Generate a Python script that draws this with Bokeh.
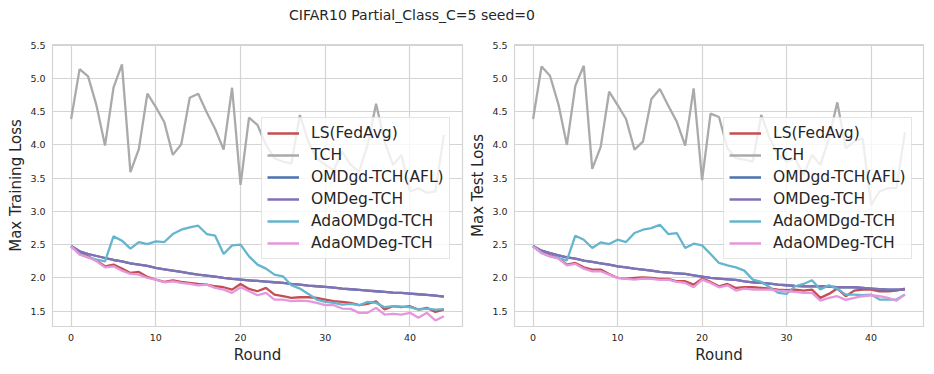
from bokeh.plotting import figure
from bokeh.models import Div, Legend, LegendItem, FixedTicker, Range1d, NumeralTickFormatter
from bokeh.layouts import column, row
from bokeh.embed import file_html
from bokeh.resources import INLINE

TITLE = "CIFAR10 Partial_Class_C=5 seed=0"
ROUNDS = list(range(45))
SERIES = ["LS(FedAvg)", "TCH", "OMDgd-TCH(AFL)", "OMDeg-TCH", "AdaOMDgd-TCH", "AdaOMDeg-TCH"]
COLORS = ["#c44e52", "#aaaaaa", "#4c72b0", "#8172b3", "#64b5cd", "#e497dd"]
Y_TICKS = [1.5, 2.0, 2.5, 3.0, 3.5, 4.0, 4.5, 5.0, 5.5]
X_TICKS = [0, 10, 20, 30, 40]

# ---- Max Training Loss ----
train_ls = [2.475, 2.375, 2.325, 2.26, 2.175, 2.20, 2.14, 2.075, 2.09, 2.015,
            1.975, 1.94, 1.965, 1.94, 1.925, 1.91, 1.90, 1.875, 1.86, 1.825,
            1.91, 1.835, 1.80, 1.85, 1.75, 1.725, 1.70, 1.71, 1.71, 1.70,
            1.675, 1.65, 1.64, 1.625, 1.59, 1.61, 1.65, 1.525, 1.575, 1.56,
            1.575, 1.525, 1.55, 1.49, 1.525]
train_tch = [4.39, 5.14, 5.03, 4.59, 3.99, 4.86, 5.21, 3.59, 3.94, 4.77,
             4.57, 4.34, 3.85, 4.01, 4.71, 4.77, 4.49, 4.24, 3.93, 4.86,
             3.40, 4.41, 4.30, 4.00, 3.80, 3.75, 3.72, 4.45, 4.05, 3.80,
             3.70, 3.62, 3.90, 3.70, 3.60, 4.00, 4.62, 4.05, 3.70, 3.85,
             3.30, 3.35, 3.28, 3.30, 4.15]
train_omdgd = [2.48, 2.40, 2.36, 2.33, 2.30, 2.27, 2.25, 2.22, 2.20, 2.18,
               2.15, 2.13, 2.11, 2.09, 2.07, 2.05, 2.035, 2.02, 2.00, 1.985,
               1.975, 1.965, 1.955, 1.945, 1.935, 1.925, 1.91, 1.90, 1.885, 1.875,
               1.865, 1.855, 1.84, 1.83, 1.82, 1.81, 1.80, 1.79, 1.78, 1.775,
               1.765, 1.755, 1.745, 1.735, 1.72]
train_omdeg = [2.48, 2.40, 2.36, 2.33, 2.30, 2.27, 2.25, 2.22, 2.20, 2.18,
               2.15, 2.13, 2.11, 2.09, 2.07, 2.05, 2.035, 2.02, 2.00, 1.985,
               1.975, 1.965, 1.955, 1.945, 1.935, 1.925, 1.91, 1.90, 1.885, 1.875,
               1.865, 1.855, 1.84, 1.83, 1.82, 1.81, 1.80, 1.79, 1.78, 1.775,
               1.765, 1.755, 1.745, 1.735, 1.72]
train_adagd = [2.475, 2.36, 2.31, 2.275, 2.25, 2.625, 2.56, 2.44, 2.54, 2.51,
               2.55, 2.54, 2.66, 2.725, 2.76, 2.785, 2.66, 2.635, 2.36, 2.49,
               2.50, 2.325, 2.20, 2.14, 2.05, 2.025, 1.89, 1.84, 1.76, 1.675,
               1.64, 1.625, 1.60, 1.61, 1.59, 1.64, 1.625, 1.56, 1.575, 1.57,
               1.56, 1.525, 1.54, 1.525, 1.53]
train_adaeg = [2.475, 2.35, 2.31, 2.25, 2.16, 2.175, 2.11, 2.06, 2.05, 2.00,
               1.975, 1.935, 1.95, 1.925, 1.91, 1.89, 1.90, 1.85, 1.825, 1.775,
               1.86, 1.80, 1.74, 1.775, 1.675, 1.675, 1.65, 1.66, 1.65, 1.625,
               1.59, 1.59, 1.54, 1.535, 1.475, 1.475, 1.55, 1.45, 1.46, 1.45,
               1.475, 1.40, 1.475, 1.36, 1.425]

# ---- Max Test Loss ----
test_ls = [2.475, 2.39, 2.34, 2.30, 2.20, 2.225, 2.16, 2.125, 2.125, 2.06,
           2.00, 1.99, 2.00, 2.01, 2.00, 1.985, 1.985, 1.95, 1.95, 1.90,
           1.99, 1.94, 1.875, 1.91, 1.85, 1.86, 1.86, 1.85, 1.84, 1.825,
           1.815, 1.825, 1.81, 1.825, 1.70, 1.76, 1.84, 1.725, 1.81, 1.825,
           1.825, 1.80, 1.80, 1.81, 1.84]
test_tch = [4.39, 5.18, 5.04, 4.61, 4.00, 4.89, 5.19, 3.64, 3.97, 4.80,
            4.60, 4.39, 3.93, 4.05, 4.69, 4.84, 4.59, 4.35, 3.99, 4.85,
            3.47, 4.47, 4.42, 3.95, 3.80, 3.78, 3.75, 4.45, 4.10, 3.85,
            3.75, 3.80, 3.55, 3.85, 3.70, 4.10, 4.64, 3.95, 4.05, 4.10,
            3.10, 3.30, 3.35, 3.35, 4.19]
test_omdgd = [2.48, 2.41, 2.375, 2.34, 2.31, 2.29, 2.26, 2.24, 2.22, 2.20,
              2.175, 2.16, 2.14, 2.125, 2.11, 2.09, 2.08, 2.07, 2.06, 2.04,
              2.02, 2.00, 1.99, 1.98, 1.97, 1.95, 1.935, 1.925, 1.915, 1.90,
              1.89, 1.88, 1.875, 1.875, 1.875, 1.87, 1.86, 1.86, 1.86, 1.85,
              1.84, 1.83, 1.825, 1.825, 1.825]
test_omdeg = [2.48, 2.41, 2.375, 2.34, 2.31, 2.29, 2.26, 2.24, 2.22, 2.20,
              2.175, 2.16, 2.14, 2.125, 2.11, 2.09, 2.08, 2.07, 2.06, 2.04,
              2.02, 2.00, 1.99, 1.98, 1.97, 1.95, 1.935, 1.925, 1.915, 1.90,
              1.89, 1.88, 1.875, 1.875, 1.875, 1.87, 1.86, 1.86, 1.86, 1.85,
              1.84, 1.83, 1.825, 1.825, 1.825]
test_adagd = [2.475, 2.375, 2.325, 2.30, 2.265, 2.635, 2.575, 2.45, 2.535, 2.51,
              2.575, 2.54, 2.675, 2.725, 2.75, 2.80, 2.66, 2.675, 2.45, 2.515,
              2.49, 2.36, 2.225, 2.19, 2.16, 2.11, 1.975, 1.94, 1.86, 1.775,
              1.76, 1.875, 1.91, 1.965, 1.825, 1.89, 1.84, 1.75, 1.75, 1.74,
              1.75, 1.675, 1.675, 1.675, 1.75]
test_adaeg = [2.475, 2.375, 2.325, 2.29, 2.19, 2.21, 2.14, 2.10, 2.10, 2.05,
              2.00, 1.985, 1.975, 1.99, 1.985, 1.97, 1.975, 1.94, 1.925, 1.86,
              1.975, 1.925, 1.86, 1.89, 1.81, 1.84, 1.825, 1.825, 1.825, 1.81,
              1.80, 1.79, 1.775, 1.775, 1.66, 1.70, 1.725, 1.67, 1.70, 1.725,
              1.74, 1.725, 1.70, 1.66, 1.75]

TEXT = "#262626"
GRID = "#d4d4d4"
FONT = "DejaVu Sans"


def make_plot(ylabel, data, frame_w, left_border, right_border):
    p = figure(frame_width=frame_w, frame_height=282, output_backend="svg",
               toolbar_location=None,
               x_range=Range1d(-2.2, 46.2), y_range=Range1d(1.27, 5.51),
               min_border_left=left_border, min_border_right=right_border,
               min_border_top=12, min_border_bottom=40)
    p.background_fill_color = "white"
    p.outline_line_color = GRID
    p.outline_line_width = 1.2
    for ax in (p.xaxis[0], p.yaxis[0]):
        ax.axis_line_color = None
        ax.major_tick_line_color = None
        ax.minor_tick_line_color = None
        ax.major_tick_out = 0
        ax.major_tick_in = 0
        ax.minor_tick_out = 0
        ax.minor_tick_in = 0
        ax.major_label_text_font = FONT
        ax.major_label_text_font_size = "9.5px"
        ax.major_label_text_color = TEXT
        ax.axis_label_text_font = FONT
        ax.axis_label_text_font_size = "15px"
        ax.axis_label_text_font_style = "normal"
        ax.axis_label_text_color = TEXT
        ax.major_label_standoff = 7
        ax.axis_label_standoff = 2
    p.xaxis[0].ticker = FixedTicker(ticks=X_TICKS)
    p.yaxis[0].ticker = FixedTicker(ticks=Y_TICKS)
    p.yaxis[0].formatter = NumeralTickFormatter(format="0.0")
    p.xaxis[0].axis_label = "Round"
    p.yaxis[0].axis_label = ylabel
    p.xgrid.grid_line_color = GRID
    p.ygrid.grid_line_color = GRID
    p.xgrid.grid_line_width = 1.2
    p.ygrid.grid_line_width = 1.2

    items = []
    for name, vals, col in zip(SERIES, data, COLORS):
        r = p.line(ROUNDS, vals, line_color=col, line_width=2.3)
        items.append(LegendItem(label=name, renderers=[r]))

    leg = Legend(items=items, location=(209, 67))
    leg.label_text_font = FONT
    leg.label_text_font_size = "15.5px"
    leg.label_text_color = TEXT
    leg.glyph_width = 32
    leg.glyph_height = 20
    leg.label_height = 20
    leg.label_standoff = 12
    leg.spacing = 2
    leg.padding = 5
    leg.margin = 0
    leg.border_line_color = "#cccccc"
    leg.border_line_width = 1
    leg.background_fill_color = "white"
    leg.background_fill_alpha = 0.8
    p.add_layout(leg, "center")
    return p


p1 = make_plot("Max Training Loss",
               [train_ls, train_tch, train_omdgd, train_omdeg, train_adagd, train_adaeg],
               410, 52, 2)
p2 = make_plot("Max Test Loss",
               [test_ls, test_tch, test_omdgd, test_omdeg, test_adagd, test_adaeg],
               409, 50, 3)

title = Div(text=TITLE, width=824, height=24, margin=(8, 0, 0, 0),
            styles={"text-align": "center", "font-family": FONT, "font-size": "14px",
                    "color": TEXT, "line-height": "14px", "width": "824px"})

layout = column(title, row(p1, p2, spacing=0), spacing=0)

with open("out.html", "w") as f:
    f.write(file_html(layout, INLINE))
